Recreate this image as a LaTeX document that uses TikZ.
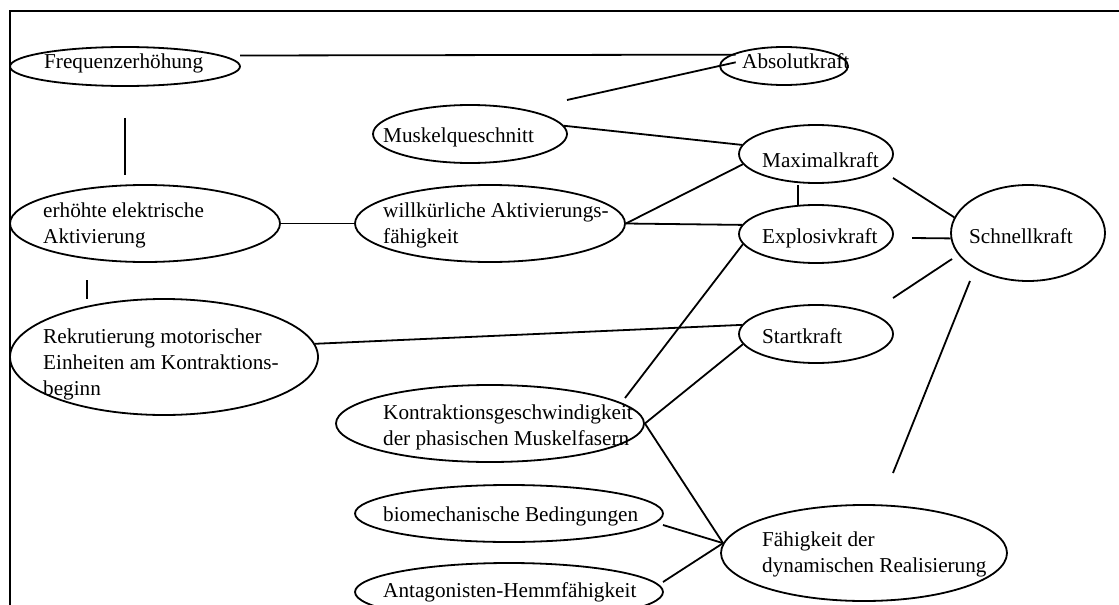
\documentclass[tikz,border=0pt]{standalone}
\usepackage{fontspec}
\setmainfont{Liberation Serif}
\usetikzlibrary{shapes.geometric}
\begin{document}
\begin{tikzpicture}[x=1pt,y=-1pt,
  oval/.style={draw, ellipse, line width=1.8pt, inner sep=0pt},
  lbl/.style={anchor=base west, inner sep=0pt, font=\fontsize{21.2}{26}\selectfont},
  link/.style={line width=1.8pt}]
\useasboundingbox (0,0) rectangle (1119,605);
% frame
\draw[line width=2.2pt] (10,700) -- (10,11) -- (1200,11);
% ellipses
\node[oval, minimum width=230pt, minimum height=39pt] (fre) at (125,66.5) {};
\node[oval, minimum width=128pt, minimum height=38pt] (abs) at (784,66) {};
\node[oval, minimum width=194pt, minimum height=58pt] (mus) at (470,134) {};
\node[oval, minimum width=154pt, minimum height=58pt] (max) at (816,154) {};
\node[oval, minimum width=154pt, minimum height=58pt] (exp) at (816,234) {};
\node[oval, minimum width=154pt, minimum height=96pt] (sch) at (1028,233) {};
\node[oval, minimum width=154pt, minimum height=58pt] (sta) at (816,334) {};
\node[oval, minimum width=270pt, minimum height=77pt] (erh) at (145,223.5) {};
\node[oval, minimum width=308pt, minimum height=116pt] (rek) at (164,357) {};
\node[oval, minimum width=270pt, minimum height=77pt] (wil) at (490,223.5) {};
\node[oval, minimum width=308pt, minimum height=77pt] (kon) at (490,423.5) {};
\node[oval, minimum width=308pt, minimum height=57pt] (bio) at (509,513.5) {};
\node[oval, minimum width=308pt, minimum height=58pt] (ant) at (509,592) {};
\node[oval, minimum width=286pt, minimum height=96pt] (fae) at (864,553) {};
% texts
\node[lbl] (fretxt) at (44,68) {Frequenzerhöhung};
\node[lbl] (abstxt) at (742,68) {Absolutkraft};
\node[lbl] (mustxt) at (383,142) {Muskelqueschnitt};
\node[lbl] (maxtxt) at (762,167) {Maximalkraft};
\node[lbl] (exptxt) at (762,243) {Explosivkraft};
\node[lbl] (schtxt) at (969,243) {Schnellkraft};
\node[lbl] (statxt) at (762,343) {Startkraft};
\node[lbl] (erhtxt) at (43,217) {\begin{tabular}[t]{@{}l@{}}erhöhte elektrische\\Aktivierung\end{tabular}};
\node[lbl] (rektxt) at (43,343) {\begin{tabular}[t]{@{}l@{}}Rekrutierung motorischer\\Einheiten am Kontraktions-\\beginn\end{tabular}};
\node[lbl] (wiltxt) at (383,217) {\begin{tabular}[t]{@{}l@{}}willkürliche Aktivierungs-\\fähigkeit\end{tabular}};
\node[lbl] (kontxt) at (383,419) {\begin{tabular}[t]{@{}l@{}}Kontraktionsgeschwindigkeit\\der phasischen Muskelfasern\end{tabular}};
\node[lbl] (biotxt) at (383,521) {biomechanische Bedingungen};
\node[lbl] (anttxt) at (383,597) {Antagonisten-Hemmfähigkeit};
\node[lbl] (faetxt) at (762,546) {\begin{tabular}[t]{@{}l@{}}Fähigkeit der\\dynamischen Realisierung\end{tabular}};
% free line ends
\coordinate (c1) at (240,55.5);
\coordinate (c3) at (567,100);
\coordinate (e1) at (87,280);
\coordinate (e2) at (87,299);
\coordinate (m1) at (798,185);
\coordinate (m2) at (798,205);
\coordinate (s1) at (893,178);
\coordinate (s2) at (912,238);
\coordinate (s3) at (893,298);
\coordinate (s4) at (952,259);
\coordinate (s5) at (970,281);
\coordinate (s6) at (893,473);
\coordinate (k1) at (625,398);
\coordinate (b1) at (663,525);
\coordinate (a1) at (663,582);
% connectors
\draw[link, shorten >=-5pt] (c1) -- (abs.168);
\draw[link, shorten >=-17pt] (c3) -- (abs.west);
\draw[link] (mus.5) -- (max.173);
\draw[link] (wil.east) -- (max.188);
\draw[link] (wil.east) -- (exp.173);
\draw[link] (erh.east) -- (wil.west);
\draw[link, shorten <=31pt, shorten >=9pt] (fre.south) -- (fre.south |- erh.north);
\draw[link] (e1) -- (e2);
\draw[link] (m1) -- (m2);
\draw[link] (s1) -- (sch.168);
\draw[link] (s2) -- (sch.184);
\draw[link] (s3) -- (s4);
\draw[link] (s5) -- (s6);
\draw[link] (rek.5) -- (sta.173);
\draw[link] (k1) -- (exp.188);
\draw[link] (kon.east) -- (sta.188);
\draw[link] (kon.east) -- (fae.176);
\draw[link] (b1) -- (fae.176);
\draw[link] (a1) -- (fae.176);
\end{tikzpicture}
\end{document}
